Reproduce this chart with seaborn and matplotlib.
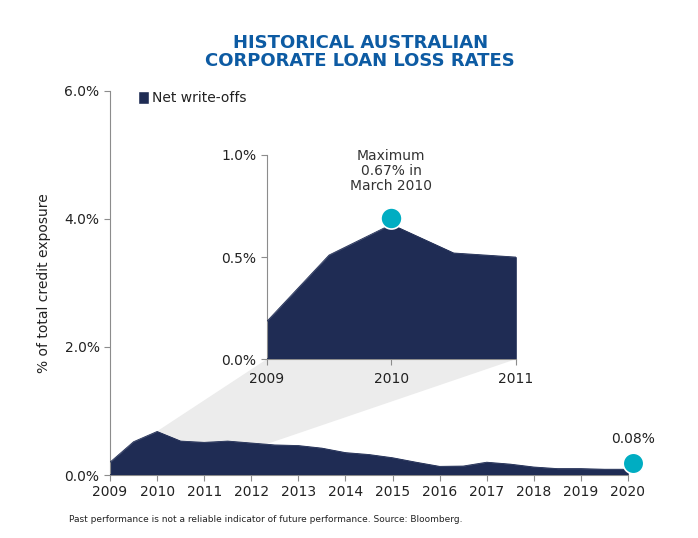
"""Historical Australian corporate loan loss rates chart."""

import matplotlib
matplotlib.use("Agg")
import matplotlib.pyplot as plt
from matplotlib.patches import Patch, Polygon
from matplotlib.ticker import FuncFormatter
import seaborn as sns
import pandas as pd

# main series, half-year steps, % of total credit exposure
years = [2009.0, 2009.5, 2010.0, 2010.5, 2011.0, 2011.5, 2012.0, 2012.5,
         2013.0, 2013.5, 2014.0, 2014.5, 2015.0, 2015.5, 2016.0, 2016.5,
         2017.0, 2017.5, 2018.0, 2018.5, 2019.0, 2019.5, 2020.0]
write_offs = [0.20, 0.52, 0.68, 0.53, 0.51, 0.53, 0.50, 0.47,
              0.46, 0.42, 0.35, 0.32, 0.27, 0.20, 0.135, 0.14,
              0.20, 0.17, 0.125, 0.10, 0.10, 0.09, 0.09]

# zoomed inset 2009-2011
inset_years = [2009.0, 2009.5, 2010.0, 2010.5, 2011.0]
inset_values = [0.185, 0.51, 0.66, 0.52, 0.50]

peak_year, peak_value = 2010.0, 0.69
last_year, last_value = 2020.1, 0.18

main_ticks = list(range(2009, 2021))
inset_ticks = [2009, 2010, 2011]

NAVY = "#1f2c54"
TEAL = "#00adc2"
GREY = "#8c8c8c"
TITLE_BLUE = "#0d5ba3"
TEXT = "#222222"

sns.set_style("ticks")
plt.rcParams["font.family"] = ["DejaVu Sans"]

df = pd.DataFrame({"year": years, "value": write_offs})
df_in = pd.DataFrame({"year": inset_years, "value": inset_values})

fig = plt.figure(figsize=(6.98, 5.38), dpi=100)
ax = fig.add_axes([0.1576, 0.1171, 0.7421, 0.7138])

pct = FuncFormatter(lambda v, _: f"{v:.1f}%")

# grey "zoom" wedge behind everything
ix0, iy0, iw, ih = 2012.33, 1.81, 5.29, 3.19
wedge = Polygon([(2009.0, 0.20), (ix0, iy0), (ix0 + iw, iy0), (2010.4, 0.0)],
                closed=True, facecolor="#ececec", edgecolor="none", zorder=0)
ax.add_patch(wedge)

ax.fill_between(df["year"], df["value"], 0, facecolor=NAVY, edgecolor=NAVY,
                lw=0.5, zorder=2)
sns.lineplot(data=df, x="year", y="value", ax=ax, color=NAVY, lw=0.6, zorder=3)
ax.axhline(0, color=NAVY, lw=1.2, zorder=3)
ax.scatter([last_year], [last_value], s=220, color=TEAL, edgecolor="white",
           linewidth=1.2, zorder=5, clip_on=False)
ax.text(last_year, last_value + 0.38, "0.08%", ha="center", va="center",
        fontsize=10, color=TEXT)

ax.set_xlim(2009, 2020)
ax.set_ylim(0, 6)
ax.set_xticks(main_ticks)
ax.set_yticks([0, 2, 4, 6])
ax.yaxis.set_major_formatter(pct)
ax.set_xlabel("")
ax.set_ylabel("% of total credit exposure", fontsize=10, color=TEXT, labelpad=10)
ax.tick_params(labelsize=10, colors=GREY, labelcolor=TEXT, length=4, width=0.8)
for s in ["top", "right"]:
    ax.spines[s].set_visible(False)
for s in ["left", "bottom"]:
    ax.spines[s].set_color(GREY)
    ax.spines[s].set_linewidth(0.8)

ax.legend(handles=[Patch(facecolor=NAVY, label="Net write-offs")],
          loc="upper left", bbox_to_anchor=(0.04, 1.017), frameon=False,
          fontsize=10, handlelength=0.85, handleheight=1.0, handletextpad=0.2,
          borderpad=0, labelcolor=TEXT)

# inset
axi = ax.inset_axes([ix0, iy0, iw, ih], transform=ax.transData)
axi.patch.set_visible(False)
axi.fill_between(df_in["year"], df_in["value"], 0, facecolor=NAVY,
                 edgecolor=NAVY, lw=0.5, zorder=2)
sns.lineplot(data=df_in, x="year", y="value", ax=axi, color=NAVY, lw=0.6, zorder=3)
axi.axhline(0, color=NAVY, lw=1.2, zorder=3)
axi.scatter([peak_year], [peak_value], s=230, color=TEAL, edgecolor="white",
            linewidth=1.2, zorder=5, clip_on=False)
axi.text(peak_year, 0.92, "Maximum\n0.67% in\nMarch 2010", ha="center",
         va="center", fontsize=10, color="#333333", linespacing=1.1)
axi.set_xlim(2009, 2011)
axi.set_ylim(0, 1)
axi.set_xticks(inset_ticks)
axi.set_yticks([0, 0.5, 1.0])
axi.yaxis.set_major_formatter(pct)
axi.set_xlabel("")
axi.set_ylabel("")
axi.tick_params(labelsize=10, colors=GREY, labelcolor=TEXT, length=4, width=0.8)
axi.tick_params(axis="x", pad=5)
for s in ["top", "right"]:
    axi.spines[s].set_visible(False)
for s in ["left", "bottom"]:
    axi.spines[s].set_color(GREY)
    axi.spines[s].set_linewidth(0.8)

fig.text(0.516, 0.903, "HISTORICAL AUSTRALIAN\nCORPORATE LOAN LOSS RATES",
         ha="center", va="center", fontsize=13, fontweight="bold",
         color=TITLE_BLUE, linespacing=1.0)
fig.text(0.099, 0.035,
         "Past performance is not a reliable indicator of future performance. Source: Bloomberg.",
         ha="left", va="center", fontsize=6.5, color=TEXT)

fig.savefig("out.png", dpi=100)
